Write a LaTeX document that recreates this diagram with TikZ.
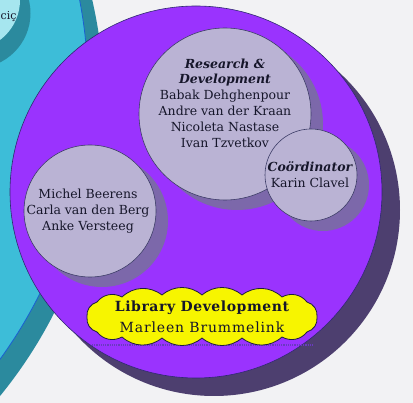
\documentclass[tikz,border=0pt]{standalone}
\usepackage{fontspec}
\setmainfont{DejaVu Serif}
\newfontfamily\wideserif[LetterSpace=6]{DejaVu Serif}
\newfontfamily\widebold[LetterSpace=4]{DejaVu Serif Bold}
\usetikzlibrary{shadows}
\definecolor{bgcol}{HTML}{F2F2F4}
\definecolor{cyanfill}{HTML}{3DBDD8}
\definecolor{cyanline}{HTML}{1A5FD0}
\definecolor{tealshadow}{HTML}{2B8A9E}
\definecolor{lightcyan}{HTML}{A6E6EF}
\definecolor{violetfill}{HTML}{9A33FE}
\definecolor{violetline}{HTML}{2F2A70}
\definecolor{violetshadow}{HTML}{4D3F6F}
\definecolor{lavfill}{HTML}{BAB3D4}
\definecolor{lavline}{HTML}{3C3C66}
\definecolor{lavshadow}{HTML}{7C68AA}
\definecolor{cloudfill}{HTML}{F7F500}
\definecolor{cloudline}{HTML}{1C1C40}
\definecolor{txtcol}{HTML}{16162A}
\definecolor{dotcol}{HTML}{6A3AC0}
\begin{document}
\begin{tikzpicture}[x=1pt,y=-1pt,
  bigcyan/.style={circle, inner sep=0pt, minimum size=924pt, fill=cyanfill, draw=cyanline, line width=0.8pt,
    drop shadow={shadow xshift=16pt, shadow yshift=-16pt, fill=tealshadow, opacity=1}},
  smallcyan/.style={circle, inner sep=0pt, minimum size=100pt, fill=lightcyan,
    drop shadow={shadow scale=1.1, shadow xshift=5pt, shadow yshift=-12pt, fill=tealshadow, opacity=1}},
  bigviolet/.style={circle, inner sep=0pt, minimum size=372pt, fill=violetfill, draw=violetline, line width=0.6pt,
    drop shadow={shadow xshift=18pt, shadow yshift=-18pt, fill=violetshadow, opacity=1}},
  bubble/.style={circle, inner sep=0pt, fill=lavfill, draw=lavline, line width=0.6pt,
    drop shadow={shadow xshift=12pt, shadow yshift=-10pt, fill=lavshadow, opacity=1}},
  lbl/.style={font=\fontsize{12.5}{15.8}\selectfont, align=center, inner sep=0pt, text=txtcol},
  cloudpath/.style={fill=cloudfill, draw=cloudline, line width=0.8pt, line join=round},
  puff/.style={bend left=40}
]
\useasboundingbox (0,0) rectangle (413,403);
\clip (0,0) rectangle (413,403);
\fill[bgcol] (0,0) rectangle (413,403);

\node[bigcyan] (outer) at (-374,88) {};
\node[smallcyan] (corner) at (-30,0) {};
\node[font=\fontsize{11}{13}\selectfont, text=txtcol, inner sep=0pt, anchor=west] (cornertxt) at (0.5,17) {ciç};

\node[bigviolet] (library) at (196,192) {};

\node[bubble, minimum size=172pt] (rd) at (225,114) {};
\node[bubble, minimum size=132pt] (mb) at (90,211) {};
\node[bubble, minimum size=92pt] (co) at (311,175) {};

\node[lbl] (rdtxt) at (225,103) {{\bfseries\itshape Research \&}\\{\bfseries\itshape Development}\\Babak Dehghenpour\\Andre van der Kraan\\Nicoleta Nastase\\Ivan Tzvetkov};
\node[lbl] (mbtxt) at (88,211) {Michel Beerens\\Carla van den Berg\\Anke Versteeg};
\node[lbl] (cotxt) at (310,175) {{\bfseries\itshape Coördinator}\\Karin Clavel};

\coordinate (dotl) at (92,345);
\coordinate (dotr) at (313,345);
\draw[dotcol, line width=1.4pt, dash pattern=on 1.2pt off 1pt] (dotl) -- (dotr);

\draw[cloudpath] (87,317) to[puff] (97,302) to[puff] (122,297) to[puff] (162,295) to[puff] (202,295)
  to[puff] (242,295) to[puff] (282,297) to[puff] (307,302) to[puff] (317,317)
  to[puff] (307,332) to[puff] (282,337) to[puff] (242,338) to[puff] (202,338)
  to[puff] (162,338) to[puff] (122,337) to[puff] (97,332) to[puff] (87,317) -- cycle;
\node[lbl, font=\fontsize{14}{21}\selectfont] (ldtxt) at (202,317) {{\widebold Library Development}\\{\wideserif Marleen Brummelink}};
\end{tikzpicture}
\end{document}
